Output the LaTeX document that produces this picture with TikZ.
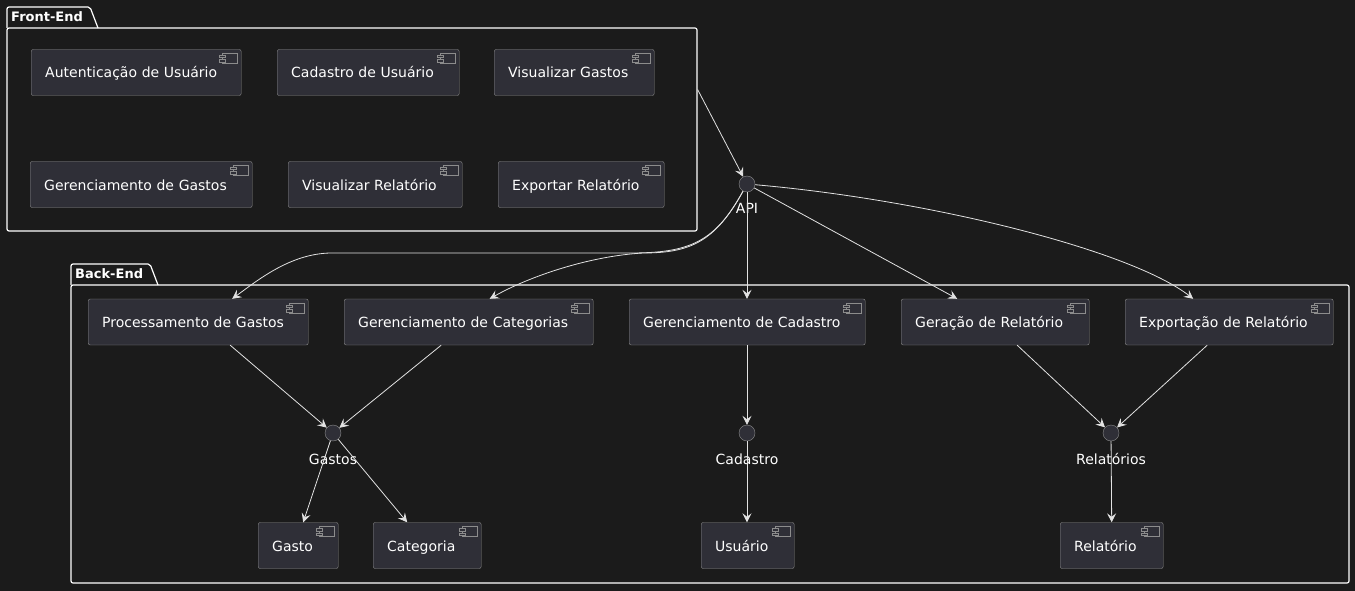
\documentclass[tikz,border=0pt]{standalone}
\usepackage{fontspec}
\setmainfont{DejaVu Sans}
\usetikzlibrary{arrows.meta}

\definecolor{bgdark}{HTML}{1B1B1B}
\definecolor{compfill}{HTML}{2F2F37}
\definecolor{compline}{HTML}{8C8C8C}
\definecolor{wireline}{HTML}{E2E2E2}

\tikzset{
  comp/.style={draw=compline, fill=compfill, rounded corners=2pt, anchor=west,
    minimum height=46pt, inner xsep=14pt, inner ysep=0pt, align=left,
    text height=12pt, text depth=1pt,
    text=white, font=\fontsize{14}{16}\selectfont},
  iface/.style={circle, draw=compline, fill=compfill, minimum size=16pt, inner sep=0pt},
  ifacelabel/.style={text=white, font=\fontsize{14}{16}\selectfont, inner sep=0pt},
  pkg/.style={draw=white, line width=1.2pt, rounded corners=2pt, inner sep=0pt},
  pkglabel/.style={text=white, font=\bfseries\fontsize{13}{15}\selectfont, anchor=west, inner sep=0pt},
  wire/.style={draw=wireline, line width=0.8pt,
    -{Stealth[length=9pt,width=9pt,inset=3.5pt]}},
  iconline/.style={draw=compline, fill=compfill, line width=0.6pt}
}

\begin{document}
\begin{tikzpicture}[x=1pt,y=-1pt]
  \fill[bgdark] (0,0) rectangle (1355,591);
  \useasboundingbox (0,0) rectangle (1355,591);

  % packages
  \draw[pkg] (7,28) -- (7,7) -- (90,7) -- (98,28);
  \node[pkg, minimum width=690pt, minimum height=203pt] (frontend) at (352,129.5) {};
  \node[pkglabel] at (11,17) {Front-End};
  \draw[pkg] (71,285) -- (71,264) -- (150,264) -- (158,285);
  \node[pkg, minimum width=1278pt, minimum height=298pt] (backend) at (710,434) {};
  \node[pkglabel] at (75,274) {Back-End};

  % front-end components
  \node[comp, text width=182pt] (fauth) at (31,72.5) {Autenticação de Usuário};
  \node[comp, text width=154pt] (fcad) at (277,72.5) {Cadastro de Usuário};
  \node[comp, text width=132pt] (fvgas) at (494,72.5) {Visualizar Gastos};
  \node[comp, text width=194pt] (fger) at (30,184.5) {Gerenciamento de Gastos};
  \node[comp, text width=146pt] (fvrel) at (288,184.5) {Visualizar Relatório};
  \node[comp, text width=138pt] (fexp) at (498,184.5) {Exportar Relatório};

  % back-end components
  \node[comp, text width=192pt] (bproc) at (88,322) {Processamento de Gastos};
  \node[comp, text width=221pt] (bcat) at (344,322) {Gerenciamento de Categorias};
  \node[comp, text width=208pt] (bcad) at (629,322) {Gerenciamento de Cadastro};
  \node[comp, text width=160pt] (bger) at (901,322) {Geração de Relatório};
  \node[comp, text width=180pt] (bexp) at (1125,322) {Exportação de Relatório};

  \node[comp, text width=52pt] (gasto) at (258,545.5) {Gasto};
  \node[comp, text width=80pt] (categ) at (373,545.5) {Categoria};
  \node[comp, text width=65pt] (usuario) at (701,545.5) {Usuário};
  \node[comp, text width=75pt] (relat) at (1060,545.5) {Relatório};

  % component icons
  \foreach \n in {fauth,fcad,fvgas,fger,fvrel,fexp,bproc,bcat,bcad,bger,bexp,gasto,categ,usuario,relat} {
    \draw[iconline] ([shift={(-19,4)}]\n.north east) rectangle ([shift={(-4,14)}]\n.north east);
    \draw[iconline] ([shift={(-22,6)}]\n.north east) rectangle ([shift={(-16,8.5)}]\n.north east);
    \draw[iconline] ([shift={(-22,10.5)}]\n.north east) rectangle ([shift={(-16,13)}]\n.north east);
  }

  % interfaces
  \node[iface] (api) at (747,184) {};
  \node[ifacelabel] (apilbl) at (747,208) {API};
  \node[iface] (gastos) at (333,433) {};
  \node[ifacelabel] (gastoslbl) at (333,459) {Gastos};
  \node[iface] (cadif) at (747,433) {};
  \node[ifacelabel] (cadiflbl) at (747,459) {Cadastro};
  \node[iface] (relif) at (1111,433) {};
  \node[ifacelabel] (reliflbl) at (1111,459) {Relatórios};

  % connectors
  \draw[wire] ([yshift=40pt]frontend.east) -- (api);
  \draw[wire] (api) .. controls (715,242) and (690,253) .. (630,253) -- (330,253)
    .. controls (290,254) and (258,280) .. ([xshift=34pt]bproc.north);
  \draw[wire] (api) .. controls (715,242) and (690,253) .. (643,253)
    .. controls (590,256) and (530,276) .. ([xshift=21pt]bcat.north);
  \draw[wire] (api) -- (api |- bcad.north);
  \draw[wire] (api) -- ([xshift=-38pt]bger.north);
  \draw[wire] (api) .. controls (930,200) and (1130,250) .. ([xshift=-36pt]bexp.north);

  \draw[wire] ([xshift=32pt]bproc.south) -- (gastos);
  \draw[wire] ([xshift=-27.5pt]bcat.south) -- (gastos);
  \draw[wire] (gastos) -- ([xshift=5pt]gasto.north);
  \draw[wire] (gastos) -- ([xshift=-20pt]categ.north);

  \draw[wire] (cadif |- bcad.south) -- (cadif);
  \draw[wire] (cadif) -- (cadif |- usuario.north);

  \draw[wire] ([xshift=22pt]bger.south) -- (relif);
  \draw[wire] ([xshift=-22pt]bexp.south) -- (relif);
  \draw[wire] (relif) -- (relat.north);
\end{tikzpicture}
\end{document}
